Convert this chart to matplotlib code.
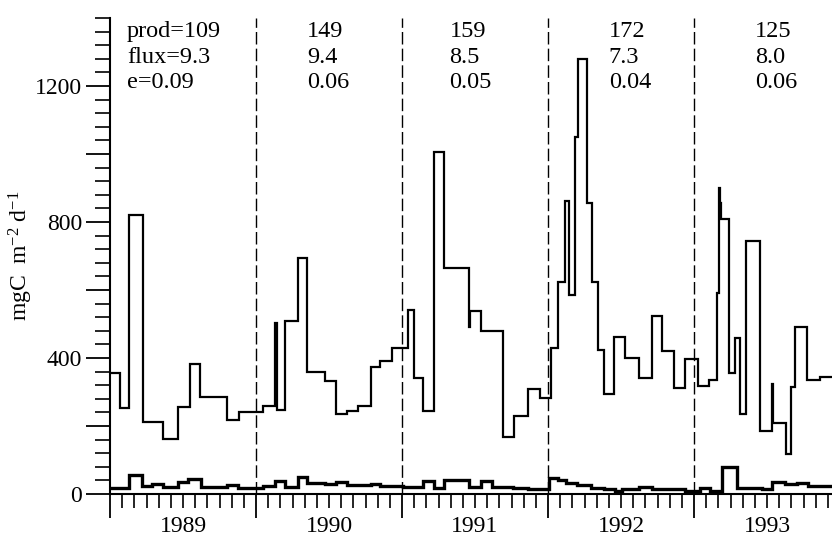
"""Primary production and export flux, 1989-1993 (step plot)."""
import matplotlib
matplotlib.use('Agg')
import matplotlib.pyplot as plt
from matplotlib.ticker import FixedLocator, MultipleLocator, FuncFormatter, NullFormatter

plt.rcParams['font.family'] = 'Liberation Serif'
plt.rcParams['mathtext.fontset'] = 'custom'
plt.rcParams['mathtext.rm'] = 'Liberation Serif'
plt.rcParams['mathtext.it'] = 'Liberation Serif:italic'

# step edges in months since Jan 1989, values in mgC m-2 d-1
prod_t = [0, 0.82, 1.59, 2.69, 4.38, 5.61, 6.58, 7.40, 9.64, 10.60,
          12.55, 13.56, 13.75, 14.38, 15.45, 16.22, 17.71, 18.55, 19.50, 20.41,
          21.45, 22.19, 23.18, 24.49, 24.99, 25.75, 26.65, 27.48, 29.51, 29.59,
          30.47, 32.33, 33.23, 34.36, 35.34, 36.25, 36.85, 37.40, 37.73, 38.22,
          38.49, 39.23, 39.59, 40.13, 40.60, 41.45, 42.33, 43.48, 44.52, 45.39,
          46.36, 47.26, 48.35, 49.26, 49.87, 50.08, 50.14, 50.22, 50.90, 51.37,
          51.78, 52.27, 53.42, 54.39, 54.53, 55.54, 55.97, 56.33, 57.26, 58.36,
          59.4]
prod = [357, 252, 820, 211, 162, 257, 382, 286, 218, 240,
        260, 504, 247, 509, 693, 358, 332, 235, 245, 260,
        373, 391, 428, 541, 340, 245, 1005, 664, 492, 538,
        480, 168, 228, 309, 281, 428, 625, 862, 586, 1051,
        1279, 855, 625, 425, 294, 462, 400, 340, 525, 421,
        311, 396, 318, 336, 590, 899, 855, 808, 355, 458,
        235, 744, 184, 325, 210, 118, 316, 490, 334, 343]

flux_t = [0, 1.56, 2.67, 3.43, 4.38, 5.59, 6.45, 7.45, 9.59, 10.55,
          12.58, 13.56, 14.38, 15.45, 16.23, 17.71, 18.55, 19.48, 21.49, 22.19,
          24.05, 25.75, 26.65, 27.48, 29.51, 30.47, 31.37, 33.15, 34.38, 36.08,
          36.82, 37.48, 38.38, 39.53, 40.60, 41.51, 42.08, 43.48, 44.55, 47.26,
          48.0, 48.49, 49.32, 50.30, 51.53, 53.59, 54.41, 55.48, 56.47, 57.37,
          59.4]
flux = [19, 57, 24, 28, 20, 36, 44, 22, 26, 17,
        23, 38, 22, 49, 33, 28, 34, 26, 29, 24,
        22, 39, 18, 42, 20, 37, 20, 18, 15, 48,
        40, 32, 26, 19, 16, 10, 16, 22, 15, 10,
        8, 18, 8, 80, 18, 14, 35, 30, 32, 24]

years = [1989, 1990, 1991, 1992, 1993]
prod_yr = ['109', '149', '159', '172', '125']
flux_yr = ['9.3', '9.4', '8.5', '7.3', '8.0']
e_yr = ['0.09', '0.06', '0.05', '0.04', '0.06']
label_x = [1.4, 16.2, 27.9, 41.0, 53.0]   # left edge of each annotation column (months)

fig = plt.figure(figsize=(8.32, 5.47), dpi=100)
ax = fig.add_axes([110 / 832, 53 / 547, 722 / 832, 476 / 547])

ax.stairs(prod, prod_t, baseline=None, color='black', lw=1.6)
ax.stairs(flux, flux_t, baseline=None, color='black', lw=2.4)

for i in range(1, len(years)):
    ax.axvline(12 * i, color='black', lw=1.0, linestyle=(0, (9, 3)))

ax.set_xlim(0, 59.34)
ax.set_ylim(0, 1400)

for s in ('top', 'right'):
    ax.spines[s].set_visible(False)
for s in ('left', 'bottom'):
    ax.spines[s].set_linewidth(1.5)

ax.xaxis.set_major_locator(FixedLocator([12 * i for i in range(len(years))]))
ax.xaxis.set_minor_locator(MultipleLocator(1))
ax.xaxis.set_major_formatter(NullFormatter())
ax.tick_params(axis='x', which='major', length=17, width=1.3, direction='out')
ax.tick_params(axis='x', which='minor', length=10, width=1.2, direction='out')

ax.yaxis.set_major_locator(FixedLocator(list(range(0, 1201, 200))))
ax.yaxis.set_minor_locator(MultipleLocator(40))
ax.yaxis.set_major_formatter(FuncFormatter(lambda v, p: f'{int(round(v))}' if round(v) % 400 == 0 else ''))
ax.tick_params(axis='y', which='major', length=17, width=1.3, direction='out', pad=3, labelsize=17)
ax.tick_params(axis='y', which='minor', length=11, width=1.2, direction='out')

ax.set_ylabel(r'$\mathrm{mgC\ \ m^{-2}\ d^{-1}}$', fontsize=17)
ax.yaxis.set_label_coords(-0.104, 0.5)

for i, yr in enumerate(years):
    ax.text(12 * i + 6, -0.069, str(yr), transform=ax.get_xaxis_transform(),
            ha='center', va='center', fontsize=17)

for i in range(len(years)):
    p = prod_yr[i] if i else 'prod=' + prod_yr[i]
    f = flux_yr[i] if i else 'flux=' + flux_yr[i]
    e = e_yr[i] if i else 'e=' + e_yr[i]
    for txt, yv in zip((p, f, e), (1343, 1269, 1193)):
        ax.text(label_x[i], yv, txt, ha='left', va='baseline', fontsize=17.5)

fig.savefig('out.png', dpi=100)
